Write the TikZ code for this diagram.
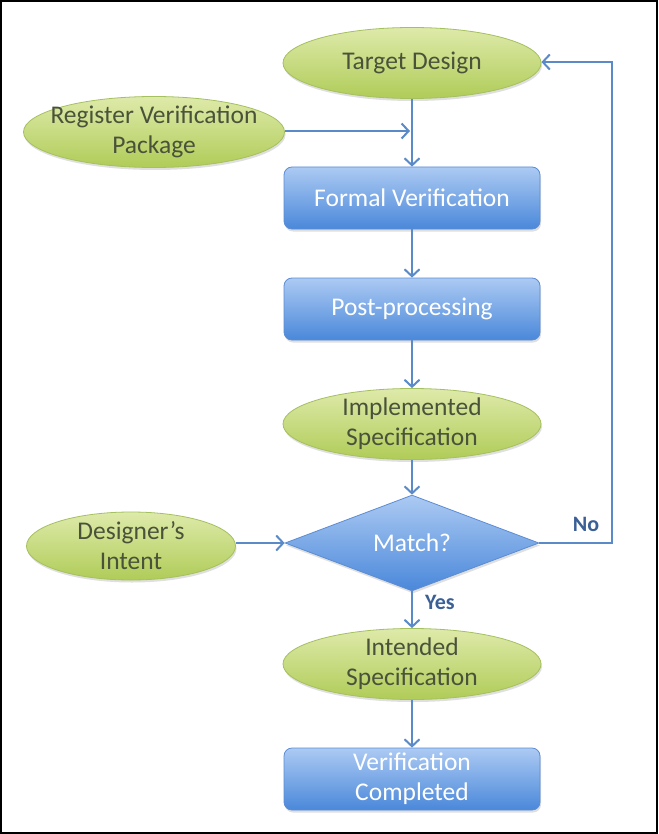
\documentclass[tikz,border=0pt]{standalone}
\usepackage{fontspec}
\setmainfont{Carlito}
\usetikzlibrary{shapes.geometric,arrows.meta,shadows}
\definecolor{lnblue}{RGB}{90,138,200}
\definecolor{elltop}{RGB}{222,234,170}
\definecolor{ellbot}{RGB}{176,204,88}
\definecolor{elldraw}{RGB}{165,192,95}
\definecolor{elltext}{RGB}{74,82,58}
\definecolor{boxtop}{RGB}{172,202,243}
\definecolor{boxbot}{RGB}{74,136,218}
\definecolor{boxdraw}{RGB}{92,140,212}
\definecolor{labblue}{RGB}{58,96,150}
\tikzset{
  base/.style={font=\fontsize{25.5}{30}\selectfont, align=center,
    drop shadow={opacity=0.25, shadow xshift=1pt, shadow yshift=-2.5pt}},
  ellnode/.style={base, ellipse, inner sep=-30pt, minimum width=258pt, minimum height=71pt,
    top color=elltop, bottom color=ellbot, draw=elldraw, line width=0.8pt, text=elltext},
  boxnode/.style={base, rectangle, inner sep=0pt, rounded corners=8pt, minimum width=256pt, minimum height=62pt,
    top color=boxtop, bottom color=boxbot, draw=boxdraw, line width=0.8pt, text=white},
  decnode/.style={base, diamond, inner sep=0pt, minimum width=254pt, minimum height=72pt,
    top color=boxtop, bottom color=boxbot, draw=boxdraw, line width=0.8pt, text=white},
  conn/.style={draw=lnblue, line width=2.5pt, -{Straight Barb[length=7pt,width=15pt,line width=2pt]}},
  lab/.style={font=\bfseries\fontsize{22}{26}\selectfont, text=labblue, inner sep=0pt}
}
\begin{document}
\begin{tikzpicture}[x=1pt,y=-1pt]
\draw[black, line width=2pt, fill=white] (1,1) rectangle (657,833);
\useasboundingbox (0,0) rectangle (658,834);

\node[ellnode] (target) at (412,63) {Target Design};
\node[ellnode, minimum width=261pt] (reg) at (154,132) {Register Verification\\Package};
\node[boxnode] (formal) at (412,198) {Formal Verification};
\node[boxnode] (post) at (412,309) {Post-processing};
\node[ellnode] (impl) at (412,424) {Implemented\\Specification};
\node[ellnode, minimum width=209pt, minimum height=68pt] (intent) at (131,546) {Designer’s\\Intent};
\node[decnode] (match) at (412,543) {Match?};
\node[ellnode] (intended) at (412,664) {Intended\\Specification};
\node[boxnode] (done) at (412,779) {Verification\\Completed};

\coordinate (join) at (412,131);
\coordinate (nocorner1) at (612,543);
\coordinate (nocorner2) at (612,62);

\draw[conn] (target.south) -- (formal.north);
\draw[conn] (reg.east |- join) -- ([xshift=-2pt]join);
\draw[conn] (formal.south) -- (post.north);
\draw[conn] (post.south) -- (impl.north);
\draw[conn] (impl.south) -- (match.north);
\draw[conn] (intent.east |- match.west) -- (match.west);
\draw[conn] (match.south) -- (intended.north);
\draw[conn] (intended.south) -- (done.north);
\draw[conn] (match.east) -- (nocorner1) -- (nocorner2) -- (target.east |- nocorner2);

\node[lab] (nolab) at (586,524) {No};
\node[lab] (yeslab) at (440,602) {Yes};
\end{tikzpicture}
\end{document}
